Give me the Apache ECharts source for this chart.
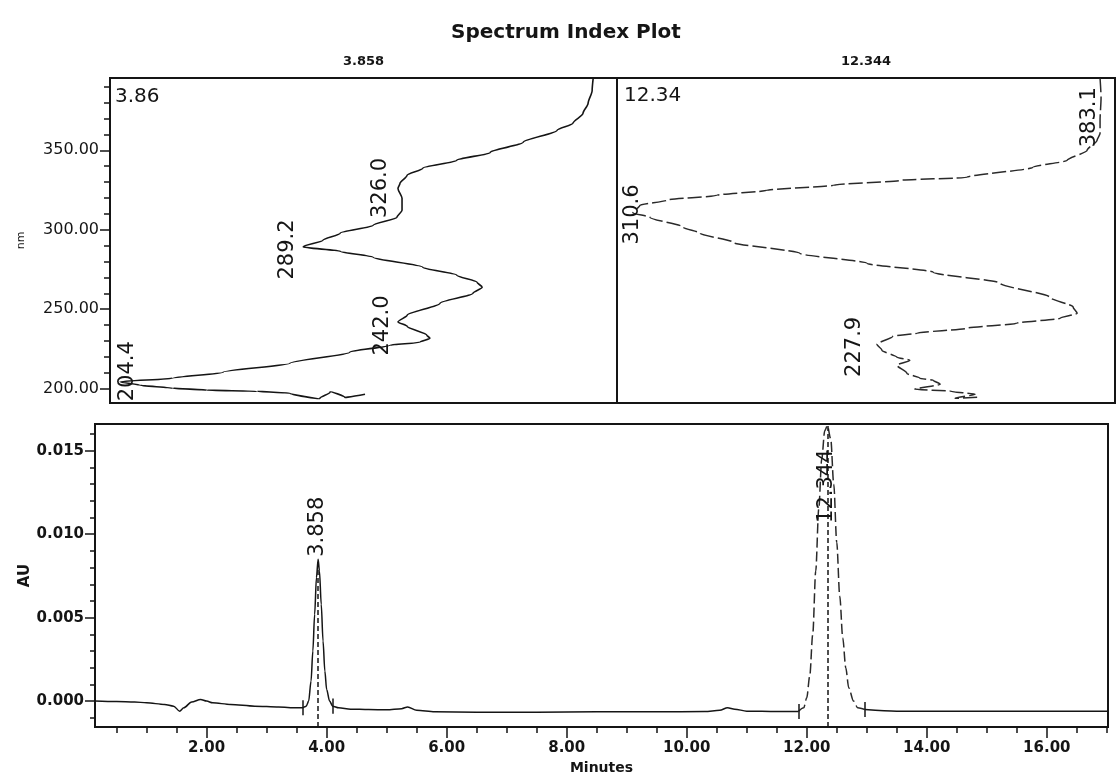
<!DOCTYPE html>
<html>
<head>
<meta charset="utf-8">
<title>Spectrum Index Plot</title>
<script src="https://cdn.jsdelivr.net/npm/echarts@6/dist/echarts.min.js"></script>
<style>
  html, body { margin: 0; padding: 0; background: #fff; }
  #chart { width: 1117px; height: 775px; }
</style>
</head>
<body>
<div id="chart"></div>
<script>
// ---- UV spectrum of the peak at 3.858 min (relative absorbance vs wavelength) ----
const spec1Abs = [0.953, 0.951, 0.943, 0.933, 0.913, 0.882, 0.815, 0.750, 0.684, 0.617,
                  0.586, 0.572, 0.568, 0.576, 0.576, 0.566, 0.519, 0.454, 0.420, 0.381,
                  0.454, 0.519, 0.617, 0.684, 0.724, 0.734, 0.716, 0.651, 0.586, 0.568,
                  0.586, 0.625, 0.631, 0.611, 0.552, 0.473, 0.355, 0.223, 0.124, 0.020,
                  0.059, 0.124, 0.191, 0.290, 0.355, 0.414, 0.434, 0.463, 0.503];
const spec1Nm  = [395.3, 387.7, 379.6, 373.3, 367.0, 362.6, 355.0, 348.7, 343.7, 338.7,
                  334.3, 329.2, 326.0, 319.8, 312.3, 307.9, 302.8, 297.8, 293.4, 289.2,
                  286.5, 282.7, 276.4, 271.4, 267.0, 263.8, 260.1, 253.8, 246.2, 242.0,
                  239.3, 233.6, 231.8, 229.2, 227.4, 223.0, 216.0, 210.4, 206.6, 204.4,
                  202.2, 200.3, 199.1, 198.4, 197.2, 194.0, 197.8, 194.6, 196.5];
const spec1Labels = [326.0, 289.2, 242.0, 204.4];

// ---- UV spectrum of the peak at 12.344 min ----
const spec2Abs = [0.970, 0.972, 0.970, 0.970, 0.964, 0.944, 0.904, 0.835, 0.703, 0.568,
                  0.434, 0.301, 0.201, 0.100, 0.046, 0.032, 0.066, 0.133, 0.167, 0.233,
                  0.367, 0.502, 0.635, 0.769, 0.869, 0.916, 0.924, 0.890, 0.803, 0.703,
                  0.602, 0.554, 0.522, 0.532, 0.562, 0.588, 0.562, 0.582, 0.608, 0.635,
                  0.649, 0.598, 0.669, 0.719, 0.679, 0.729];
const spec2Nm  = [395.3, 383.1, 368.9, 360.7, 356.3, 350.0, 343.7, 339.3, 333.0, 331.1,
                  328.0, 324.8, 321.7, 318.6, 315.4, 310.6, 307.9, 301.6, 297.8, 292.1,
                  285.2, 278.9, 273.3, 266.4, 257.5, 251.3, 247.5, 244.3, 241.2, 238.1,
                  234.9, 233.0, 227.9, 224.2, 219.8, 217.9, 214.8, 209.7, 206.6, 205.3,
                  202.8, 199.7, 198.4, 196.5, 194.0, 194.7];
const spec2Labels = [383.1, 310.6, 227.9];

// ---- Chromatogram (AU vs minutes) ----
const chromTime = [0.14, 0.5, 0.8, 1.0, 1.3, 1.45, 1.55, 1.62, 1.75, 1.9,
                   2.0, 2.1, 2.4, 2.8, 3.2, 3.5, 3.6, 3.66, 3.70, 3.74,
                   3.77, 3.80, 3.83, 3.858, 3.88, 3.91, 3.94, 3.97, 4.00, 4.05,
                   4.10, 4.20, 4.40, 4.70, 5.00, 5.25, 5.35, 5.50, 5.80, 6.50,
                   7.50, 8.50, 9.50, 10.30, 10.55, 10.68, 10.80, 11.00, 11.50, 11.86,
                   11.95, 12.00, 12.05, 12.10, 12.15, 12.20, 12.25, 12.30, 12.344, 12.40,
                   12.45, 12.50, 12.55, 12.60, 12.65, 12.70, 12.78, 12.85, 12.97, 13.50,
                   14.50, 15.50, 16.50, 17.02];
const chromAU   = [0.0000, -0.00003, -0.00005, -0.0001, -0.0002, -0.0003, -0.0006, -0.0004, -0.00005, 0.0001,
                   0.0000, -0.0001, -0.0002, -0.0003, -0.00035, -0.0004, -0.0004, -0.0003, 0.0000, 0.0012,
                   0.0030, 0.0052, 0.0074, 0.0085, 0.0078, 0.0058, 0.0036, 0.0018, 0.0007, 0.0000,
                   -0.0003, -0.0004, -0.00048, -0.0005, -0.00052, -0.00045, -0.00035, -0.00055, -0.00064, -0.00066,
                   -0.00066, -0.00064, -0.00064, -0.00062, -0.00055, -0.0004, -0.00048, -0.0006, -0.00062, -0.00062,
                   -0.0004, 0.0002, 0.0015, 0.0040, 0.0078, 0.0115, 0.0145, 0.0162, 0.0165, 0.0157,
                   0.0130, 0.0095, 0.0063, 0.0038, 0.0020, 0.0008, 0.0000, -0.0004, -0.0005, -0.0006,
                   -0.0006, -0.0006, -0.0006, -0.0006];
const peakTimes  = [3.858, 12.344];
const peakStarts = [3.60, 11.86];
const peakEnds   = [4.10, 12.97];

// ---- Tick values ----
const nmTicks     = [200, 250, 300, 350];
const auTicks     = [0.000, 0.005, 0.010, 0.015];
const minuteTicks = [2, 4, 6, 8, 10, 12, 14, 16];

// ---- layout ----
const NM_MIN = 191, NM_MAX = 395.5;
const T_MIN = 0.14, T_MAX = 17.02;
const AU_MIN = -0.00155, AU_MAX = 0.0166;
const FONT = 'DejaVu Sans';
const INK = '#151515';

function range(a, b, step) {
  const out = [];
  for (let v = a; v <= b + 1e-9; v += step) out.push(+v.toFixed(6));
  return out;
}
const zip = (xs, ys) => xs.map((x, i) => [x, ys[i]]);

// label placement (pixel shift from the labelled point) for each spectrum peak label
const specLabelShift = {
  '326.0': [-17, 0], '289.2': [-15, 3], '242.0': [-15, 4], '204.4': [8, -10],
  '383.1': [-11, 20], '310.6': [0, 2], '227.9': [-22, 3]
};
const peakLabelShift = [[0, -32], [0, 61]];

function specMarks(absArr, nmArr, labels) {
  return labels.map(nm => {
    const i = nmArr.indexOf(nm);
    return {
      coord: [absArr[i], nmArr[i]],
      value: nm,
      label: { position: specLabelShift[nm.toFixed(1)] }
    };
  });
}

const labelBase = {
  show: true, rotate: 90, align: 'center', verticalAlign: 'middle',
  fontFamily: FONT, fontSize: 21, color: INK
};

const chart = echarts.init(document.getElementById('chart'), null, { renderer: 'canvas' });

const gridTop = { top: 78, height: 325 };
const grids = [
  Object.assign({ left: 110, width: 507 }, gridTop),
  Object.assign({ left: 617, width: 498 }, gridTop),
  { left: 95, top: 424, width: 1013, height: 303 }
].map(g => Object.assign(g, {
  show: true, borderColor: INK, borderWidth: 2, backgroundColor: 'transparent',
  containLabel: false, outerBoundsMode: 'none'
}));

const hiddenX = gi => ({ type: 'value', gridIndex: gi, min: 0, max: 1, show: false });

// chromatogram pieces: the second peak is printed with a broken trace
const chromAll = zip(chromTime, chromAU);
const seg1 = chromAll.filter(p => p[0] <= peakStarts[1]);
const seg2 = chromAll.filter(p => p[0] >= peakStarts[1] && p[0] <= peakEnds[1]);
const seg3 = chromAll.filter(p => p[0] >= peakEnds[1]);

const auAt = t => chromAU[chromTime.indexOf(t)];

const dropStyle = { color: INK, width: 1.5, type: [5, 3] };
const markStyle = { color: INK, width: 1.5, type: 'solid' };
const chromMarkLines = [];
peakTimes.forEach((t, k) => {
  chromMarkLines.push([{ coord: [t, AU_MIN], lineStyle: dropStyle }, { coord: [t, auAt(t)] }]);
  [peakStarts[k], peakEnds[k]].forEach(tt => {
    const b = auAt(tt);
    chromMarkLines.push([{ coord: [tt, b - 0.00045], lineStyle: markStyle }, { coord: [tt, b + 0.00045] }]);
  });
});

const tickLine = { color: INK, width: 1.5 };

const option = {
  backgroundColor: '#ffffff',
  animation: false,
  grid: grids,
  xAxis: [
    hiddenX(0),
    hiddenX(1),
    {
      type: 'value', gridIndex: 2, min: T_MIN, max: T_MAX, position: 'bottom',
      name: 'Minutes', nameLocation: 'middle', nameGap: 34, nameMoveOverlap: false,
      nameTextStyle: { fontFamily: FONT, fontWeight: 'bold', fontSize: 14, color: INK },
      axisLine: { show: true, onZero: false, lineStyle: { color: INK, width: 2 } },
      axisTick: { show: true, length: 11, customValues: minuteTicks, lineStyle: tickLine },
      axisLabel: { customValues: minuteTicks, formatter: v => v.toFixed(2), margin: 14,
                   fontFamily: FONT, fontWeight: 'bold', fontSize: 15, color: INK },
      splitLine: { show: false }
    },
    {
      type: 'value', gridIndex: 2, min: T_MIN, max: T_MAX, position: 'bottom',
      axisLine: { show: false, onZero: false },
      axisTick: { show: true, length: 6, customValues: range(0.5, 17, 0.5), lineStyle: tickLine },
      axisLabel: { show: false },
      splitLine: { show: false }
    }
  ],
  yAxis: [
    {
      type: 'value', gridIndex: 0, min: NM_MIN, max: NM_MAX, position: 'left',
      name: 'nm', nameLocation: 'middle', nameGap: 83, nameMoveOverlap: false,
      nameTextStyle: { fontFamily: FONT, fontSize: 11, color: INK },
      axisLine: { show: true, onZero: false, lineStyle: { color: INK, width: 2 } },
      axisTick: { show: true, length: 10, customValues: nmTicks, lineStyle: tickLine },
      axisLabel: { customValues: nmTicks, formatter: v => v.toFixed(2), margin: 11,
                   fontFamily: FONT, fontSize: 16, color: INK },
      splitLine: { show: false }
    },
    {
      type: 'value', gridIndex: 0, min: NM_MIN, max: NM_MAX, position: 'left',
      axisLine: { show: false, onZero: false },
      axisTick: { show: true, length: 6, customValues: range(200, 390, 10), lineStyle: tickLine },
      axisLabel: { show: false },
      splitLine: { show: false }
    },
    { type: 'value', gridIndex: 1, min: NM_MIN, max: NM_MAX, show: false },
    {
      type: 'value', gridIndex: 2, min: AU_MIN, max: AU_MAX, position: 'left',
      name: 'AU', nameLocation: 'middle', nameGap: 62, nameMoveOverlap: false,
      nameTextStyle: { fontFamily: FONT, fontWeight: 'bold', fontSize: 15, color: INK },
      axisLine: { show: true, onZero: false, lineStyle: { color: INK, width: 2 } },
      axisTick: { show: true, length: 10, customValues: auTicks, lineStyle: tickLine },
      axisLabel: { customValues: auTicks, formatter: v => v.toFixed(3), margin: 11,
                   fontFamily: FONT, fontWeight: 'bold', fontSize: 15, color: INK },
      splitLine: { show: false }
    },
    {
      type: 'value', gridIndex: 2, min: AU_MIN, max: AU_MAX, position: 'left',
      axisLine: { show: false, onZero: false },
      axisTick: { show: true, length: 5, customValues: range(-0.001, 0.016, 0.001), lineStyle: tickLine },
      axisLabel: { show: false },
      splitLine: { show: false }
    }
  ],
  graphic: [
    { type: 'text', x: 566, y: 33, style: { text: 'Spectrum Index Plot', align: 'center', verticalAlign: 'middle',
      font: `bold 20px "${FONT}"`, fill: INK } },
    { type: 'text', x: 110 + 507 / 2, y: 62, style: { text: peakTimes[0].toFixed(3), align: 'center', verticalAlign: 'middle',
      font: `bold 13px "${FONT}"`, fill: INK } },
    { type: 'text', x: 617 + 498 / 2, y: 62, style: { text: peakTimes[1].toFixed(3), align: 'center', verticalAlign: 'middle',
      font: `bold 13px "${FONT}"`, fill: INK } },
    { type: 'text', x: 115, y: 97, style: { text: peakTimes[0].toFixed(2), align: 'left', verticalAlign: 'middle',
      font: `20px "${FONT}"`, fill: INK } },
    { type: 'text', x: 624, y: 96, style: { text: peakTimes[1].toFixed(2), align: 'left', verticalAlign: 'middle',
      font: `20px "${FONT}"`, fill: INK } }
  ],
  series: [
    {
      type: 'line', xAxisIndex: 0, yAxisIndex: 0,
      data: zip(spec1Abs, spec1Nm),
      symbol: 'none', smooth: 0.25, smoothMonotone: 'y',
      lineStyle: { color: INK, width: 1.6 },
      markPoint: {
        symbol: 'circle', symbolSize: 1, itemStyle: { color: 'rgba(0,0,0,0)' },
        label: Object.assign({}, labelBase, { formatter: p => p.value.toFixed(1) }),
        data: specMarks(spec1Abs, spec1Nm, spec1Labels)
      }
    },
    {
      type: 'line', xAxisIndex: 1, yAxisIndex: 2,
      data: zip(spec2Abs, spec2Nm),
      symbol: 'none', smooth: 0.25, smoothMonotone: 'y',
      lineStyle: { color: '#2a2a2a', width: 1.5, type: [14, 4] },
      markPoint: {
        symbol: 'circle', symbolSize: 1, itemStyle: { color: 'rgba(0,0,0,0)' },
        label: Object.assign({}, labelBase, { formatter: p => p.value.toFixed(1) }),
        data: specMarks(spec2Abs, spec2Nm, spec2Labels)
      }
    },
    {
      type: 'line', xAxisIndex: 2, yAxisIndex: 3,
      data: seg1, symbol: 'none', smooth: 0.3, smoothMonotone: 'x',
      lineStyle: { color: INK, width: 1.5 },
      markLine: {
        silent: true, symbol: ['none', 'none'], label: { show: false },
        lineStyle: dropStyle,
        data: chromMarkLines
      },
      markPoint: {
        symbol: 'circle', symbolSize: 1, itemStyle: { color: 'rgba(0,0,0,0)' },
        label: Object.assign({}, labelBase, { formatter: p => p.value.toFixed(3) }),
        data: peakTimes.map((t, k) => ({ coord: [t, auAt(t)], value: t, label: { position: peakLabelShift[k] } }))
      }
    },
    {
      type: 'line', xAxisIndex: 2, yAxisIndex: 3,
      data: seg2, symbol: 'none', smooth: 0.3, smoothMonotone: 'x',
      lineStyle: { color: '#2a2a2a', width: 1.5, type: [10, 4] }
    },
    {
      type: 'line', xAxisIndex: 2, yAxisIndex: 3,
      data: seg3, symbol: 'none', smooth: 0.3, smoothMonotone: 'x',
      lineStyle: { color: INK, width: 1.5 }
    }
  ]
};

chart.setOption(option);
</script>
</body>
</html>
